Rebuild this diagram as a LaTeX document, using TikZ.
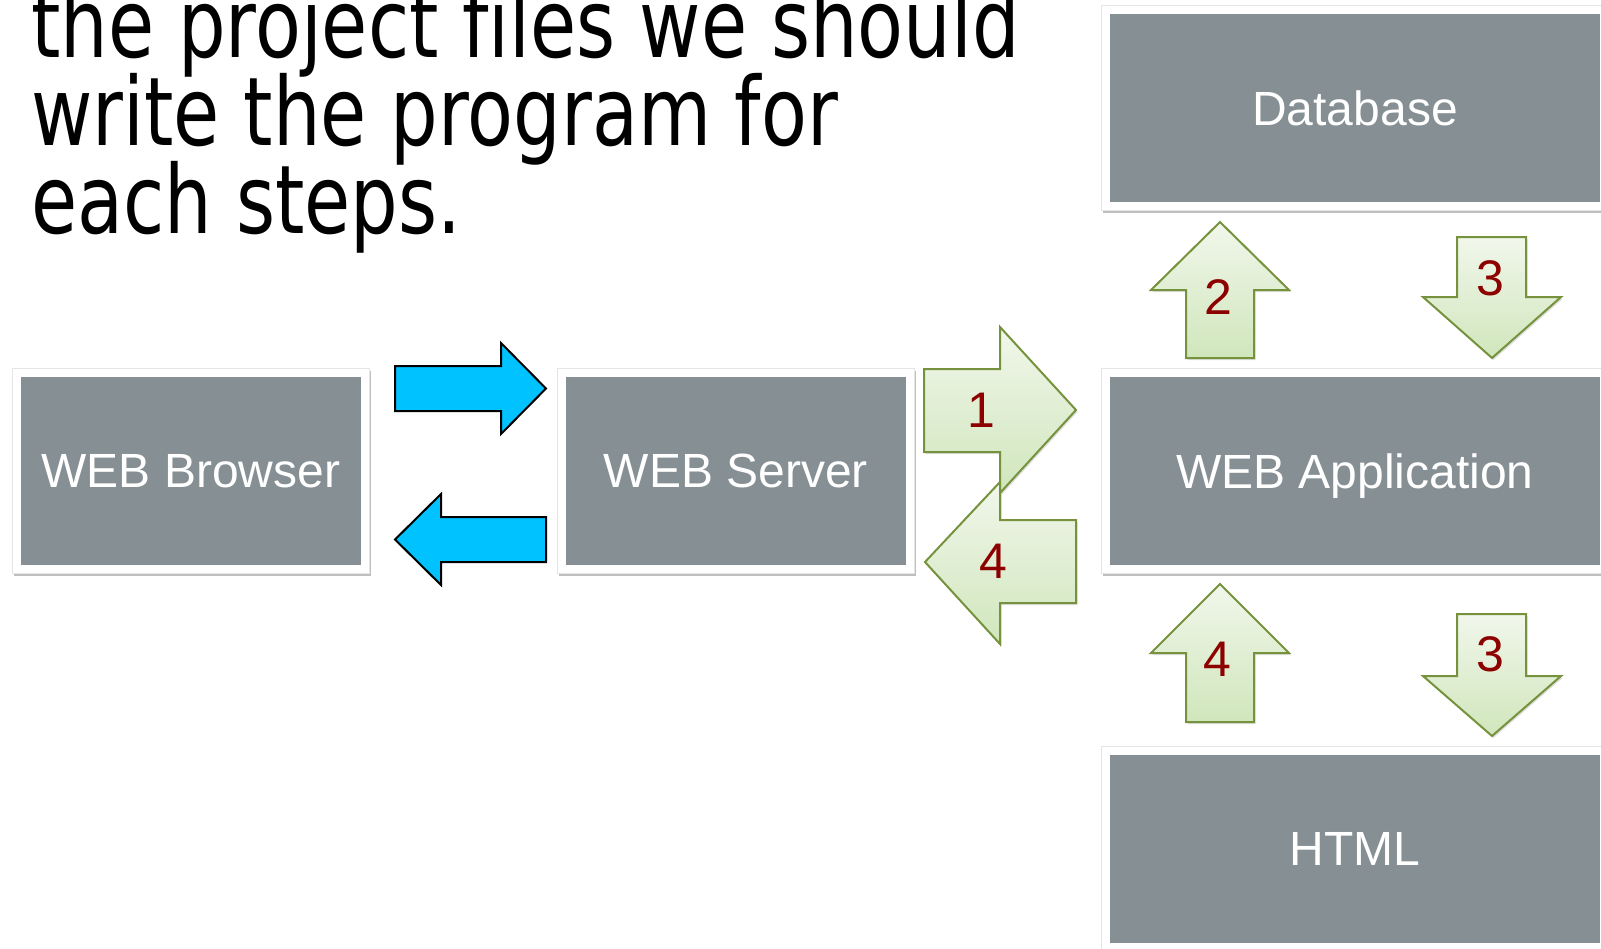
\documentclass[tikz,border=0pt]{standalone}
\usepackage{fontspec}
\setmainfont{Liberation Sans}
\newfontfamily\titlefont[FakeStretch=0.79, Ligatures=NoCommon]{DejaVu Sans}
\newcommand{\titlesetup}{\titlefont\fontsize{95}{88}\selectfont\lineskiplimit=-1000pt\relax}
\usetikzlibrary{positioning, shadows}
\definecolor{boxgray}{RGB}{134,144,148}
\definecolor{skyblue}{RGB}{0,194,255}
\definecolor{leafline}{RGB}{118,146,60}
\definecolor{leaftop}{RGB}{241,247,235}
\definecolor{leafbot}{RGB}{208,230,188}
\definecolor{stepred}{RGB}{140,0,0}
\tikzstyle{boxnode} = [rectangle, fill=boxgray, draw=white, line width=8pt, minimum width=348pt, minimum height=196pt, text=white, text depth=0pt, font=\fontsize{48}{56}\selectfont, preaction={draw=black!25, line width=9pt, transform canvas={shift={(1pt,-2.5pt)}}}, preaction={draw=black!10, line width=10pt}]
\tikzstyle{bluearrow} = [fill=skyblue, draw=black, line width=2pt]
\tikzstyle{greenarrow} = [top color=leaftop, bottom color=leafbot, draw=leafline, line width=2pt, drop shadow={opacity=0.25, shadow xshift=1.5pt, shadow yshift=-2pt}]
\tikzstyle{stepnum} = [text=stepred, font=\fontsize{50}{60}\selectfont, inner sep=0pt]

\begin{document}
\begin{tikzpicture}[x=1pt, y=-1pt]
\useasboundingbox (0,0) rectangle (1601,948);
\node[anchor=north west, inner sep=0pt, align=left, font=\titlesetup] (title) at (31,-15) {the project files we should\\write the program for\\each steps.};

\node[boxnode] (browser) at (191,471) {WEB Browser};
\node[boxnode] (server) [right=189pt of browser] {WEB Server};
\node[boxnode, minimum width=498pt] (app) at (1355,471) {WEB Application};
\node[boxnode, minimum width=498pt] (db) [above=159pt of app] {Database};
\node[boxnode, minimum width=498pt] (html) [below=174pt of app] {HTML};

% browser <-> server
\draw[bluearrow] (395,366) -- (501,366) -- (501,343) -- (546,388.5) -- (501,434) -- (501,411) -- (395,411) -- cycle;
\draw[bluearrow] (546,517) -- (441,517) -- (441,494) -- (395,539.5) -- (441,585) -- (441,562) -- (546,562) -- cycle;

% server <-> application
\draw[greenarrow] (1076,520) -- (1000,520) -- (1000,482) -- (925,562) -- (1000,644) -- (1000,603) -- (1076,603) -- cycle;
\draw[greenarrow] (924,369) -- (1000,369) -- (1000,327) -- (1076,410) -- (1000,493) -- (1000,452) -- (924,452) -- cycle;
\node[stepnum] (s1) at (981,410) {1};
\node[stepnum] (s4a) at (993,561) {4};

% application <-> database
\draw[greenarrow] (1186,358) -- (1186,290) -- (1151,290) -- (1220,222) -- (1289,290) -- (1254,290) -- (1254,358) -- cycle;
\draw[greenarrow] (1457,237) -- (1526,237) -- (1526,297) -- (1561,297) -- (1492,358) -- (1423,297) -- (1457,297) -- cycle;
\node[stepnum] (s2) at (1218,297) {2};
\node[stepnum] (s3a) at (1490,278) {3};

% application <-> html
\draw[greenarrow] (1186,722) -- (1186,653) -- (1151,653) -- (1220,584) -- (1289,653) -- (1254,653) -- (1254,722) -- cycle;
\draw[greenarrow] (1457,614) -- (1526,614) -- (1526,676) -- (1561,676) -- (1492,736) -- (1423,676) -- (1457,676) -- cycle;
\node[stepnum] (s4b) at (1217,659) {4};
\node[stepnum] (s3b) at (1490,654) {3};
\end{tikzpicture}
\end{document}
